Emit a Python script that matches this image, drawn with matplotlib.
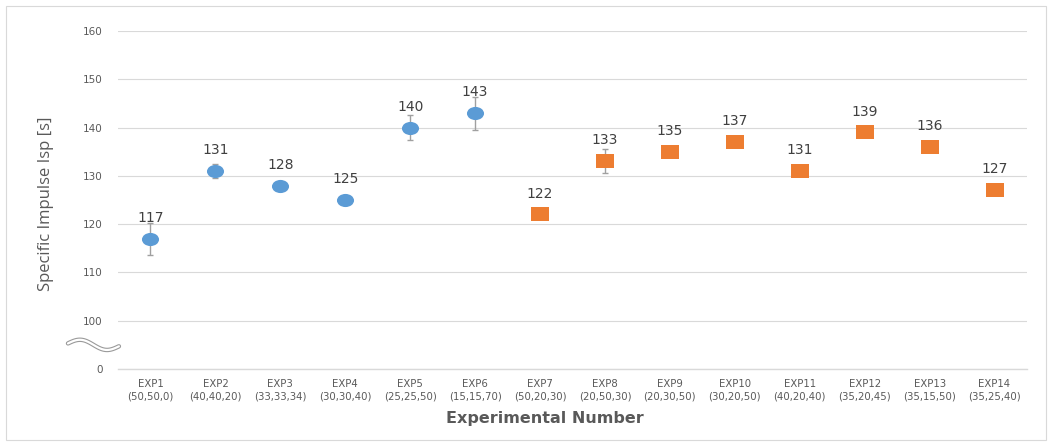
import numpy as np
import matplotlib
matplotlib.use("Agg")
import matplotlib.pyplot as plt
from matplotlib.path import Path
from matplotlib.transforms import Affine2D
from matplotlib.patches import Rectangle

plt.rcParams['font.family'] = ['DejaVu Sans']

# Experiment names and propellant compositions
exp_names = ["EXP1", "EXP2", "EXP3", "EXP4", "EXP5", "EXP6", "EXP7",
             "EXP8", "EXP9", "EXP10", "EXP11", "EXP12", "EXP13", "EXP14"]
compositions = ["(50,50,0)", "(40,40,20)", "(33,33,34)", "(30,30,40)",
                "(25,25,50)", "(15,15,70)", "(50,20,30)", "(20,50,30)",
                "(20,30,50)", "(30,20,50)", "(40,20,40)", "(35,20,45)",
                "(35,15,50)", "(35,25,40)"]

# Specific impulse (s) and measurement spread
isp_values = [117, 131, 128, 125, 140, 143, 122, 133, 135, 137, 131, 139, 136, 127]
isp_errors = [3.3, 1.4, 0, 0, 2.6, 3.4, 0, 2.5, 0, 0, 0, 0, 0, 0]

# Series membership: first six are one group, rest another
group_a = 6

# Y-axis ticks (broken axis: bottom tick stands for 0)
y_ticks = [90, 100, 110, 120, 130, 140, 150, 160]
y_tick_labels = ["0", "100", "110", "120", "130", "140", "150", "160"]

blue = "#5B9BD5"
orange = "#ED7D31"
grid_c = "#D9D9D9"
text_c = "#595959"

fig = plt.figure(figsize=(10.52, 4.43), dpi=100)
ax = fig.add_axes([118 / 1052, 1 - 369 / 443, 909 / 1052, (369 - 31) / 443])

# Flattened markers (ellipse and rectangle)
ell = Path.unit_circle().transformed(Affine2D().scale(1.3, 1.0))
rect = Path([(-1.35, -1), (1.35, -1), (1.35, 1), (-1.35, 1), (-1.35, -1)],
            [Path.MOVETO, Path.LINETO, Path.LINETO, Path.LINETO, Path.CLOSEPOLY])

x = np.arange(len(isp_values))
vals = np.array(isp_values, dtype=float)
errs = np.array(isp_errors, dtype=float)

has_err = errs > 0
ax.errorbar(x[has_err], vals[has_err], yerr=errs[has_err], fmt='none',
            ecolor="#A0A0A0", elinewidth=1.0, capsize=2.5, capthick=1.0, zorder=2)

ax.plot(x[:group_a], vals[:group_a], linestyle='none', marker=ell,
        markersize=12.3, color=blue, markeredgewidth=0, zorder=3)
ax.plot(x[group_a:], vals[group_a:], linestyle='none', marker=rect,
        markersize=13, color=orange, markeredgewidth=0, zorder=3)

for xi, v in zip(x, isp_values):
    ax.annotate(f"{v}", (xi, v), xytext=(0, 10), textcoords='offset points',
                ha='center', va='bottom', fontsize=10, color="#404040")

ax.set_xlim(-0.5, len(isp_values) - 0.5)
ax.set_ylim(90, 160)
ax.set_yticks(y_ticks)
ax.set_yticklabels(y_tick_labels)
ax.set_xticks(x)
ax.set_xticklabels([f"{n}\n{c}" for n, c in zip(exp_names, compositions)],
                   fontsize=7.3, color=text_c, linespacing=1.35)
ax.tick_params(axis='y', length=0, labelsize=7.5, labelcolor=text_c, pad=11)
ax.tick_params(axis='x', length=0, pad=7)

ax.grid(axis='y', color=grid_c, linewidth=0.8)
ax.set_axisbelow(True)
for s in ['top', 'right', 'left']:
    ax.spines[s].set_visible(False)
ax.spines['bottom'].set_color(grid_c)
ax.spines['bottom'].set_linewidth(1.0)

ax.set_ylabel("Specific Impulse Isp [s]", fontsize=12, color=text_c,
              family=['Open Sans', 'DejaVu Sans'])
ax.yaxis.set_label_coords((54 - 118) / 909, 0.49)
ax.set_xlabel("Experimental Number", fontsize=11.5, color=text_c,
              fontweight='bold')
ax.xaxis.set_label_coords((545 - 118) / 909, -(411 - 369) / 338)

# Axis-break squiggle between 0 and 100
tb = ax.get_yaxis_transform()
t = np.linspace(0, 1, 100)
bx = -0.055 + 0.056 * t
by = 95.0 + 0.9 * np.sin(2 * np.pi * t) - 0.6 * (t - 0.5)
ax.plot(bx, by, transform=tb, color="#9A9A9A", lw=3.2, clip_on=False,
        solid_capstyle='round', zorder=5)
ax.plot(bx, by, transform=tb, color="white", lw=1.6, clip_on=False,
        solid_capstyle='round', zorder=6)

# Chart border
fig.patches.append(Rectangle((6 / 1052, 3 / 443), 1040 / 1052, 434 / 443,
                             transform=fig.transFigure, fill=False,
                             edgecolor="#D9D9D9", linewidth=0.8))

fig.savefig("out.png", dpi=100, facecolor="white")
